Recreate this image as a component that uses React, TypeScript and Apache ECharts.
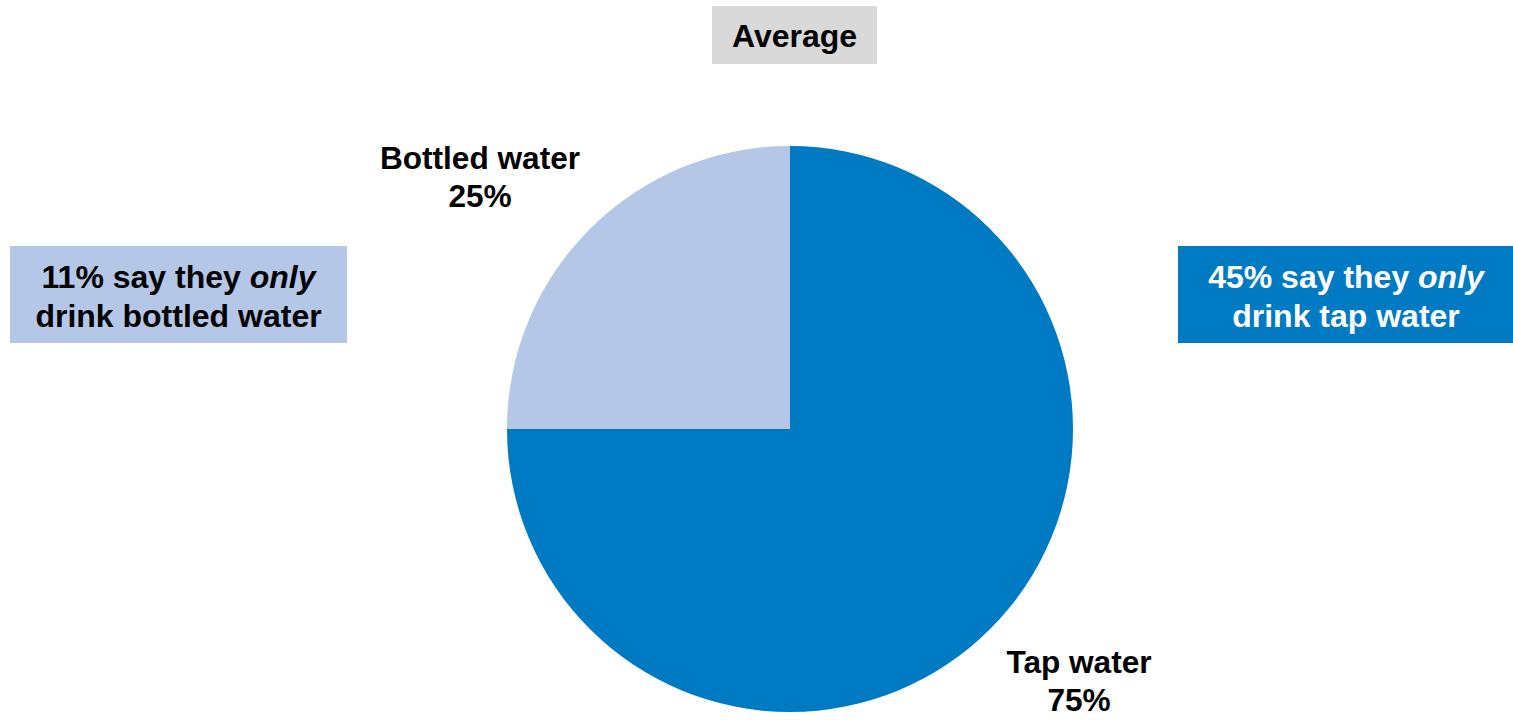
import React, { useEffect, useRef } from "react";
import * as echarts from "echarts";

const categories = ["Tap water", "Bottled water"];
const shares = [75, 25];
const sliceColors = ["#007AC2", "#B4C7E7"];
const titleText = "Average";
const leftNote = ["11% say they ", "only", "drink bottled water"];
const rightNote = ["45% say they ", "only", "drink tap water"];
// label anchor positions (px) for each slice label, same order as categories
const labelPositions = [
  [1079, 681],
  [480, 177],
];

const FONT = "'Liberation Sans', Arial, sans-serif";

export default function App() {
  const ref = useRef<HTMLDivElement>(null);
  useEffect(() => {
    document.body.style.margin = "0";
    const chart = echarts.init(ref.current!, null, { renderer: "svg" });
    const noteRich = (color: string) => ({
      b: { fontFamily: FONT, fontWeight: "bold", fontSize: 32, lineHeight: 39, fill: color, color },
      i: { fontFamily: FONT, fontWeight: "bold", fontStyle: "italic", fontSize: 32, lineHeight: 39, fill: color, color },
    });
    chart.setOption({
      animation: false,
      backgroundColor: "#ffffff",
      graphic: [
        {
          type: "rect",
          shape: { x: 712, y: 6, width: 165, height: 58 },
          style: { fill: "#D9D9D9" },
        },
        {
          type: "text",
          x: 794.5,
          y: 36,
          style: {
            text: titleText,
            font: `bold 32px ${FONT}`,
            fill: "#000",
            align: "center",
            verticalAlign: "middle",
          },
        },
        {
          type: "rect",
          shape: { x: 10, y: 246, width: 337, height: 97 },
          style: { fill: "#B4C7E7" },
        },
        {
          type: "text",
          x: 178.5,
          y: 296,
          style: {
            text: `{b|${leftNote[0]}}{i|${leftNote[1]}}\n{b|${leftNote[2]}}`,
            rich: noteRich("#000000"),
            align: "center",
            verticalAlign: "middle",
          },
        },
        {
          type: "rect",
          shape: { x: 1178, y: 246, width: 335, height: 97 },
          style: { fill: "#007AC2" },
        },
        {
          type: "text",
          x: 1346,
          y: 296,
          style: {
            text: `{b|${rightNote[0]}}{i|${rightNote[1]}}\n{b|${rightNote[2]}}`,
            rich: noteRich("#ffffff"),
            align: "center",
            verticalAlign: "middle",
          },
        },
      ],
      series: [
        {
          type: "pie",
          center: [790, 429],
          radius: 283,
          startAngle: 90,
          clockwise: true,
          avoidLabelOverlap: false,
          emphasis: { disabled: true },
          itemStyle: { borderWidth: 0 },
          label: {
            show: true,
            position: "outside",
            formatter: (p: any) => `${p.name}\n${p.value}%`,
            fontFamily: FONT,
            fontWeight: "bold",
            fontSize: 31.6,
            lineHeight: 38,
            color: "#000",
            align: "center",
          },
          labelLine: { show: false },
          labelLayout: (p: any) => ({
            x: labelPositions[p.dataIndex][0],
            y: labelPositions[p.dataIndex][1],
            align: "center",
            verticalAlign: "middle",
          }),
          data: categories.map((name, i) => ({
            name,
            value: shares[i],
            itemStyle: { color: sliceColors[i] },
          })),
        },
      ],
    });
    return () => chart.dispose();
  }, []);
  return <div ref={ref} style={{ width: 1513, height: 720 }} />;
}
